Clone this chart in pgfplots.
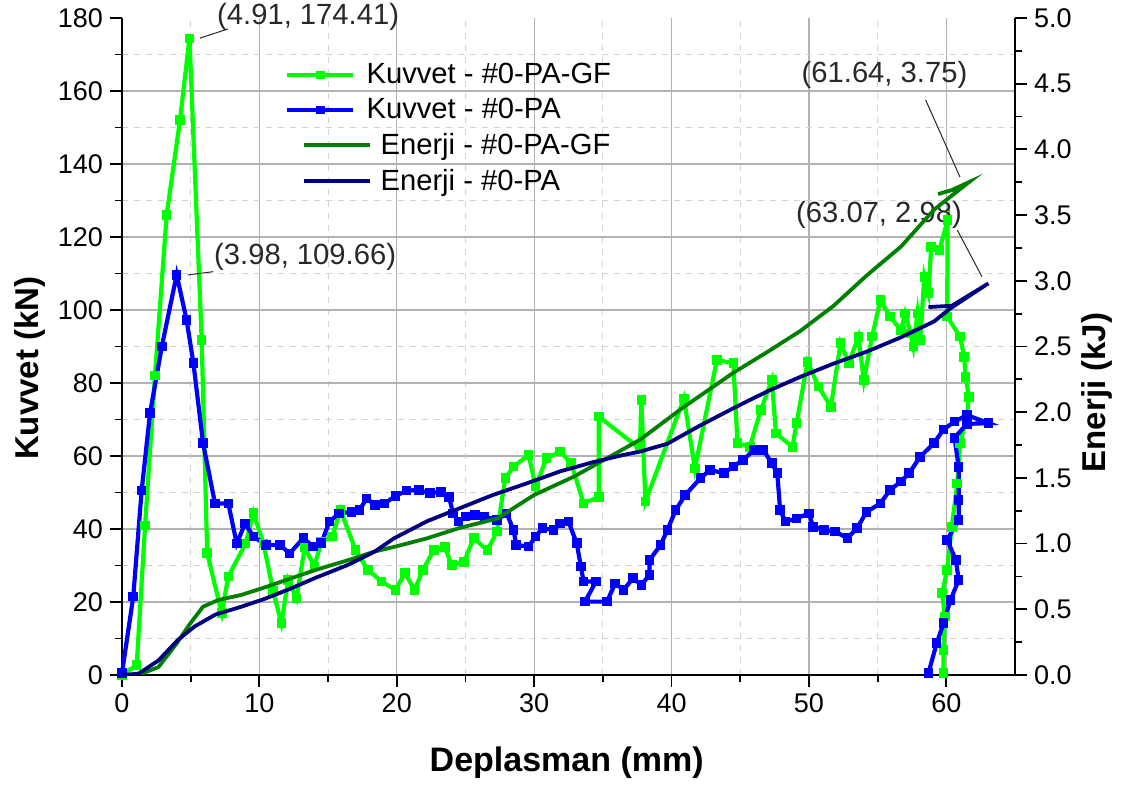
\documentclass[border=0pt]{standalone}
\usepackage{pgfplots}
\pgfplotsset{compat=1.18}
\usepackage{fontspec}
\setmainfont{Liberation Sans}

\definecolor{kgf}{RGB}{0,255,0}
\definecolor{kpa}{RGB}{0,0,255}
\definecolor{egf}{RGB}{0,128,0}
\definecolor{epa}{RGB}{0,0,128}
\definecolor{annot}{RGB}{40,40,40}

\pgfplotsset{
  frame/.style={
    scale only axis, width=446.5pt, height=328.5pt,
    xmin=0, xmax=65,
    /pgf/number format/assume math mode=true,
    ticklabel style={font=\fontsize{13.5}{15}\selectfont},
    axis line style={line width=1pt, black},
    tick style={line width=0.9pt, black},
    major tick length=6pt, minor tick length=3.5pt,
    tick align=outside,
  },
  kuv/.style={line width=2.1pt, mark=square*, mark size=1.35pt, mark options={solid}},
  ene/.style={line width=1.9pt},
  enelegend/.style={legend image code/.code={\draw[overlay, ##1]
    (8.5pt,0pt) -- (41.5pt,0pt);}},
}

\begin{document}
\begin{tikzpicture}
\path[use as bounding box] (-61pt,-56pt) rectangle (502pt,337.5pt);

% background grid
\begin{axis}[frame, ymin=0, ymax=180,
  axis line style={draw=none}, tick style={draw=none},
  xticklabels={}, yticklabels={},
  xtick={10,20,...,60}, minor xtick={5,15,...,55},
  ytick={20,40,...,160}, minor ytick={10,30,...,170},
  grid=both,
  major grid style={draw=gray!60, line width=0.6pt},
  minor grid style={draw=gray!35, dashed, line width=0.5pt}]
\end{axis}

% force axis
\begin{axis}[frame, ymin=0, ymax=180, clip=false,
  axis x line*=bottom, axis y line*=left,
  xtick={0,10,...,60}, minor x tick num=1,
  ytick={0,20,...,180}, minor y tick num=1,
  xlabel={Deplasman (mm)}, ylabel={Kuvvet (kN)},
  xlabel style={at={(axis description cs:0.498,-0.134)}, anchor=center,
                font=\fontsize{17}{19}\selectfont\bfseries},
  ylabel style={at={(axis description cs:-0.103,0.467)}, anchor=center,
                font=\fontsize{16.5}{18}\selectfont\bfseries}]

\addplot[kuv, color=kgf] coordinates {
(0,0) (1.07,2.7) (1.68,41) (2.4,82) (3.25,126) (4.22,152) (4.91,174.41)
(5.8,91.8) (6.2,33.4) (7.26,17) (7.74,27) (9.0,36) (9.57,44.4) (10.3,36)
(11.0,23) (11.6,14.2) (12.1,26) (12.7,21) (13.3,35) (14.0,29.7) (14.5,36.5)
(15.3,37.9) (15.9,45.2) (17.0,34.2) (17.9,28.8) (18.9,25.6) (19.9,23.3)
(20.6,27.9) (21.3,23.3) (21.9,28.8) (22.7,34.2) (23.5,35) (24.0,30.1)
(24.9,31) (25.6,37.5) (26.6,34.2) (27.3,39.3) (27.9,53.9) (28.5,57.1)
(29.6,60.3) (30.1,51.6) (30.9,59.4) (31.9,61.2) (32.7,58) (33.6,47)
(34.7,48.8) (34.7,70.8) (37.7,62) (37.8,75.3) (38.1,47.5) (40.9,75.8)
(41.7,56.6) (43.3,86.3) (44.5,85.4) (44.8,63.5) (45.7,62.5) (46.5,72.6)
(47.3,80.8) (47.6,66.2) (48.8,62.5) (49.1,69) (49.9,85.8) (50.7,79)
(51.6,73.5) (52.3,90.9) (52.9,85.5) (53.6,92.6) (54.0,80.8) (54.6,92.7)
(55.2,102.7) (55.9,98.2) (56.7,94.5) (57.0,99) (57.4,93.6) (57.6,90)
(57.9,99) (58.1,91.8) (58.4,109.1) (58.7,104.6) (58.9,117.3) (59.5,116.4)
(60.1,124.7) (60.06,98.2) (61.0,92.7) (61.3,87.2) (61.4,81.7) (61.64,76.2)
(61.5,70.8) (61.0,63.5) (60.8,52.5) (60.4,40.6) (60.06,28.8) (59.7,22.4)
(59.9,16) (59.8,6.8) (59.8,0.5)
};

\addplot[kuv, color=kpa] coordinates {
(0,0.5) (0.82,21.5) (1.43,50.5) (2.04,71.7) (2.9,90) (3.98,109.66) (4.7,97.3)
(5.2,85.4) (5.9,63.5) (6.77,47) (7.74,47) (8.35,36) (8.96,41.5) (9.57,37.9)
(10.5,35.6) (11.5,35.6) (12.2,33.3) (13.2,37.5) (13.9,35.2) (14.5,36.1)
(15.1,42) (15.8,44.3) (16.7,44.7) (17.3,45.2) (17.8,48.4) (18.4,46.6)
(19.1,47) (19.9,49) (20.7,50.5) (21.6,50.7) (22.4,49.8) (23.2,50.2)
(23.8,48.8) (24.1,44.3) (24.5,42) (25.0,43.4) (25.7,43.8) (26.4,43.4)
(27.3,42.5) (28.0,44.3) (28.5,39.7) (28.7,35.6) (29.6,35.2) (30.1,37.9)
(30.6,40.2) (31.4,39.7) (31.9,41.5) (32.5,42) (33.1,36.1) (33.4,29.7)
(33.6,25.6) (34.5,25.6) (33.7,20.1) (35.3,20.1) (35.9,25.1) (36.5,23.3)
(37.2,26.5) (37.8,24.7) (38.4,27.4) (38.4,31.5) (39.2,35.6) (39.7,39.7)
(40.3,45.2) (41.0,49.3) (42.1,53.9) (42.8,56.2) (43.8,55.3) (44.5,57.1)
(45.2,58.9) (46.0,61.6) (46.7,61.6) (47.3,58) (47.7,55.3) (47.9,45.2)
(48.3,42) (49.1,42.9) (50.0,44.3) (50.3,40.6) (51.1,39.7) (51.9,39.3)
(52.8,37.5) (53.5,40.2) (54.2,44.7) (55.2,47) (55.9,50.7) (56.7,53)
(57.3,55.3) (58.1,59.8) (59.1,63.5) (59.8,67.3) (60.6,69.4) (61.5,71.2)
(63.07,69) (61.5,68.8) (60.6,65) (60.9,57) (60.9,47.9) (60.9,42.5)
(60.06,37) (60.7,31.5) (60.9,26) (60.3,20.5) (59.8,14.2) (59.3,8.7)
(58.7,0.5)
};

% peak labels
\draw[annot, line width=0.5pt] (axis cs:5.68,174.5) -- (axis cs:7.72,177);
\node[annot, font=\fontsize{14.6}{16}\selectfont] at (axis cs:13.55,180.4) {(4.91, 174.41)};
\draw[annot, line width=0.5pt] (axis cs:4.8,109.6) -- (axis cs:6.63,110.5);
\node[annot, font=\fontsize{14.6}{16}\selectfont] at (axis cs:13.33,114.5) {(3.98, 109.66)};
\draw[annot, line width=0.5pt] (axis cs:58.5,157.5) -- (axis cs:61.0,136.4);
\node[annot, font=\fontsize{14.6}{16}\selectfont] at (axis cs:55.5,164.4) {(61.64, 3.75)};
\draw[annot, line width=0.5pt] (axis cs:60.8,121.9) -- (axis cs:62.6,109.1);
\node[annot, font=\fontsize{14.6}{16}\selectfont] at (axis cs:55.1,126) {(63.07, 2.98)};
\end{axis}

% energy axis
\begin{axis}[frame, ymin=0, ymax=5,
  axis x line=none, axis y line*=right,
  ytick={0,0.5,1,1.5,2,2.5,3,3.5,4,4.5,5}, minor y tick num=1,
  yticklabel style={/pgf/number format/.cd, fixed, fixed zerofill, precision=1},
  ylabel={Enerji (kJ)},
  ylabel style={at={(axis description cs:1.092,0.43)}, anchor=center,
                font=\fontsize{16.5}{18}\selectfont\bfseries},
  legend cell align=left,
  legend style={at={(rel axis cs:0.1825,0.938)}, anchor=north west,
    draw=none, fill=none, font=\fontsize{14.6}{16}\selectfont,
    row sep=1.8pt, inner sep=0pt,
    /tikz/every odd column/.append style={column sep=3.5pt}},
  legend image code/.code={\draw[#1, mark repeat=2, mark phase=2]
    plot coordinates {(0pt,0pt) (16.5pt,0pt) (33pt,0pt)};}]

\addlegendimage{kuv, color=kgf, mark size=1pt}
\addlegendentry{Kuvvet - \#0-PA-GF}
\addlegendimage{kuv, color=kpa, mark size=1pt}
\addlegendentry{Kuvvet - \#0-PA}

\addplot[ene, color=egf, enelegend] coordinates {
(1.2,0) (1.43,0.01) (2.65,0.06) (3.98,0.24) (4.95,0.39) (5.9,0.52) (7.0,0.57)
(8.7,0.61) (10.2,0.66) (11.6,0.71) (14.1,0.80) (16.5,0.875) (18.4,0.94)
(20.0,0.98) (22.2,1.04) (24.6,1.12) (27.3,1.19) (30.0,1.37) (32.9,1.51)
(34.8,1.62) (37.7,1.79) (40.9,2.04) (44.5,2.30) (47.0,2.46) (49.4,2.62)
(51.8,2.81) (54.2,3.04) (56.7,3.26) (59.1,3.54) (60.3,3.64) (61.64,3.75)
(60.4,3.69) (59.4,3.66)
};
\addlegendentry{\hspace{7pt}Enerji - \#0-PA-GF}

\addplot[ene, color=epa, enelegend] coordinates {
(0,0) (1.2,0.01) (2.65,0.11) (4.1,0.27) (5.3,0.37) (6.8,0.46) (8.7,0.52)
(10.4,0.58) (12.1,0.65) (14.1,0.74) (16.5,0.84) (18.4,0.94) (19.8,1.04)
(22.2,1.17) (24.6,1.27) (27.0,1.37) (29.5,1.46) (31.9,1.55) (34.3,1.62)
(36.3,1.67) (37.7,1.70) (39.7,1.76) (42.1,1.90) (44.5,2.03) (47.0,2.16)
(49.4,2.27) (51.8,2.37) (54.2,2.46) (56.7,2.57) (59.1,2.69) (60.3,2.79)
(62.9,2.97) (63.07,2.98) (60.4,2.81) (58.7,2.80)
};
\addlegendentry{\hspace{7pt}Enerji - \#0-PA}
\end{axis}
\end{tikzpicture}
\end{document}
